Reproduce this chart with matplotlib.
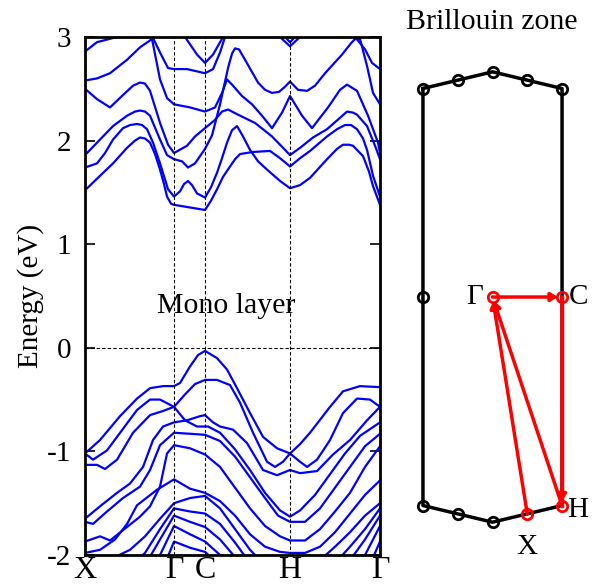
import matplotlib
matplotlib.use("Agg")
import matplotlib.pyplot as plt
from matplotlib.patches import FancyArrowPatch

plt.rcParams['font.family'] = ['Liberation Serif', 'DejaVu Serif']
plt.rcParams['axes.unicode_minus'] = False

# high-symmetry points along the k-path (path length units)
kpts = [0, 89, 120, 205, 295]
klabels = ['X', 'Γ', 'C', 'H', 'Γ']

# conduction bands: (k, E) pairs
c1_k = [0, 15, 28, 42, 50, 55, 60, 65, 70, 75, 79, 82, 86, 89, 120, 126, 132, 138, 145, 150, 155, 168, 185, 195, 205,
        215, 225, 242, 252, 260, 266, 272, 278, 282, 288, 295]
c1_e = [1.52, 1.66, 1.78, 1.93, 2.00, 2.03, 2.02, 1.98, 1.87, 1.72, 1.58, 1.46, 1.39, 1.38, 1.33, 1.42, 1.53, 1.65, 1.75, 1.82, 1.87, 1.89, 1.90, 1.83, 1.75,
        1.83, 1.90, 2.04, 2.11, 2.15, 2.15, 2.11, 2.02, 1.91, 1.66, 1.46]
c2_k = [0, 12, 20, 28, 38, 45, 52, 57, 62, 68, 75, 83, 89, 95, 99, 103, 107, 112, 120, 126, 132, 137, 142, 147, 152, 158, 165, 173, 182, 195, 205,
        215, 225, 242, 252, 258, 264, 268, 278, 284, 288, 295]
c2_e = [1.74, 1.78, 1.88, 2.01, 2.12, 2.15, 2.16, 2.15, 2.11, 1.98, 1.78, 1.53, 1.46, 1.51, 1.58, 1.61, 1.57, 1.49, 1.45, 1.55, 1.69, 1.83, 1.98, 2.10, 2.14, 2.04, 1.91, 1.80, 1.72, 1.61, 1.54,
        1.57, 1.64, 1.82, 1.92, 1.96, 1.96, 1.95, 1.85, 1.70, 1.56, 1.38]
c3_k = [0, 15, 28, 42, 50, 55, 60, 65, 75, 82, 89, 97, 103, 110, 120, 127, 135, 143, 147, 150, 154, 160, 173, 180, 187, 194, 200, 205,
        213, 222, 230, 240, 257, 266, 270, 275, 282, 288, 295]
c3_e = [1.86, 2.01, 2.14, 2.24, 2.28, 2.29, 2.28, 2.24, 2.01, 1.86, 1.82, 1.80, 1.74, 1.78, 1.92, 2.05, 2.35, 2.70, 2.84, 2.89, 2.88, 2.78, 2.56, 2.49, 2.46, 2.47, 2.52, 2.57,
        2.49, 2.48, 2.53, 2.65, 2.83, 2.94, 2.98, 2.98, 2.72, 2.46, 2.35]
c4_k = [0, 12, 25, 38, 48, 55, 60, 65, 75, 83, 89, 102, 110, 120, 130, 137, 143, 153, 170, 187, 205,
        215, 228, 242, 255, 262, 268, 272, 282, 290, 295]
c4_e = [2.50, 2.40, 2.32, 2.44, 2.53, 2.56, 2.55, 2.48, 2.17, 1.96, 1.88, 1.95, 2.04, 2.12, 2.20, 2.28, 2.30, 2.25, 2.17, 2.04, 1.86,
        1.93, 2.03, 2.11, 2.22, 2.28, 2.27, 2.25, 2.14, 1.95, 1.82]
c5_k = [0, 12, 25, 42, 55, 67, 75, 82, 89, 105, 120, 130, 137, 142, 147, 157, 167, 177, 187, 197, 205,
        217, 227, 243, 255, 262, 272, 283, 293, 295]
c5_e = [2.58, 2.60, 2.65, 2.78, 2.90, 2.98, 2.59, 2.41, 2.35, 2.32, 2.28, 2.32, 2.46, 2.59, 2.54, 2.43, 2.35, 2.24, 2.12, 2.27, 2.43,
        2.24, 2.12, 2.32, 2.49, 2.54, 2.48, 2.24, 1.98, 1.88]
c6_k = [0, 12, 32, 50, 68, 75, 83, 89, 102, 120, 128, 135, 140, 160, 190, 195, 205, 215, 230, 265, 271, 280, 287, 295]
c6_e = [2.86, 2.95, 3.00, 3.12, 2.99, 2.85, 2.70, 2.69, 2.69, 2.65, 2.69, 2.85, 3.00, 3.20, 3.05, 3.00, 2.91, 3.00, 3.20, 3.12, 2.99, 2.88, 2.75, 2.69]
c7_k = [89, 100, 112, 120, 128, 138, 150, 190, 200, 205, 210, 220]
c7_e = [3.20, 3.00, 2.83, 2.75, 2.83, 3.00, 3.20, 3.10, 3.00, 2.95, 3.00, 3.10]

# valence bands
v1_k = [0, 15, 35, 52, 65, 78, 89, 95, 105, 113, 120, 132, 142, 152, 165, 178, 192, 205,
        215, 225, 245, 258, 275, 295]
v1_e = [-1.02, -0.89, -0.66, -0.49, -0.39, -0.37, -0.37, -0.34, -0.18, -0.07, -0.03, -0.10, -0.21, -0.39, -0.63, -0.86, -0.97, -1.02,
        -0.93, -0.82, -0.57, -0.42, -0.37, -0.38]
v2_k = [0, 8, 22, 32, 52, 65, 75, 89, 100, 110, 120, 132, 145, 155, 168, 182, 190, 198, 205,
        215, 222, 232, 245, 258, 272, 285, 295]
v2_e = [-1.02, -1.08, -0.99, -0.86, -0.60, -0.50, -0.50, -0.57, -0.45, -0.35, -0.31, -0.31, -0.36, -0.53, -0.82, -1.10, -1.15, -1.10, -1.02,
        -1.10, -1.15, -1.08, -0.89, -0.63, -0.49, -0.50, -0.57]
v3_k = [0, 12, 20, 32, 48, 65, 78, 89, 100, 112, 123, 135, 150, 165, 180, 195, 205,
        215, 230, 245, 260, 275, 295]
v3_e = [-1.13, -1.13, -1.17, -1.08, -0.82, -0.65, -0.61, -0.57, -0.70, -0.76, -0.76, -0.82, -0.98, -1.18, -1.40, -1.57, -1.63,
        -1.57, -1.42, -1.22, -1.02, -0.85, -0.72]
v4_k = [0, 15, 32, 45, 58, 68, 78, 89, 102, 115, 120, 128, 135, 148, 162, 178, 192, 205,
        215, 232, 248, 265, 282, 295]
v4_e = [-1.65, -1.53, -1.40, -1.31, -1.15, -0.89, -0.76, -0.72, -0.70, -0.66, -0.65, -0.72, -0.76, -0.79, -0.92, -1.18, -1.23, -1.18,
        -1.21, -1.19, -1.03, -0.89, -0.70, -0.57]
v5_k = [0, 8, 22, 38, 55, 65, 75, 89, 105, 120, 135, 150, 165, 180, 193, 205,
        220, 235, 250, 265, 280, 295]
v5_e = [-1.68, -1.70, -1.58, -1.45, -1.34, -1.18, -0.94, -0.82, -0.83, -0.84, -0.90, -1.05, -1.25, -1.45, -1.62, -1.68,
        -1.68, -1.55, -1.35, -1.15, -0.95, -0.83]
v6_k = [0, 15, 25, 38, 55, 65, 75, 82, 89, 105, 120, 135, 150, 165, 180, 195, 205,
        220, 235, 250, 265, 280, 295]
v6_e = [-1.87, -1.82, -1.86, -1.76, -1.63, -1.53, -1.34, -1.02, -0.94, -0.97, -1.03, -1.15, -1.35, -1.55, -1.72, -1.82, -1.86,
        -1.86, -1.75, -1.58, -1.40, -1.15, -0.95]
v7_k = [0, 15, 30, 42, 52, 72, 89, 105, 120, 135, 150, 165, 180, 195, 205,
        220, 235, 250, 265, 280, 295]
v7_e = [-1.98, -1.95, -1.85, -1.70, -1.52, -1.37, -1.27, -1.36, -1.40, -1.48, -1.62, -1.80, -1.92, -1.97, -1.98,
        -1.98, -1.92, -1.78, -1.60, -1.42, -1.28]

# deeper valence bands share one k grid
vk = [0, 15, 30, 45, 60, 75, 89, 105, 120, 135, 150, 165, 180, 195, 205, 220, 235, 250, 265, 280, 295]
v8_e = [-2.15, -2.10, -2.02, -1.95, -1.82, -1.65, -1.50, -1.45, -1.43, -1.55, -1.75, -1.95, -2.10, -2.20, -2.20, -2.15, -2.05, -1.92, -1.78, -1.62, -1.50]
v9_e = [-2.30, -2.25, -2.20, -2.10, -1.98, -1.75, -1.55, -1.58, -1.60, -1.70, -1.88, -2.08, -2.25, -2.35, -2.35, -2.30, -2.20, -2.08, -1.92, -1.75, -1.55]
v10_e = [-2.45, -2.40, -2.35, -2.25, -2.10, -1.85, -1.62, -1.68, -1.73, -1.85, -2.02, -2.20, -2.35, -2.45, -2.45, -2.40, -2.35, -2.20, -2.05, -1.85, -1.62]
v11_e = [-2.60, -2.55, -2.50, -2.40, -2.25, -2.00, -1.72, -1.80, -1.87, -2.00, -2.15, -2.35, -2.50, -2.60, -2.60, -2.55, -2.50, -2.35, -2.20, -2.00, -1.72]
v12_e = [-2.80, -2.75, -2.70, -2.60, -2.45, -2.20, -1.87, -1.93, -1.97, -2.10, -2.30, -2.50, -2.70, -2.80, -2.80, -2.75, -2.70, -2.55, -2.40, -2.20, -1.87]

# Brillouin zone outline (reciprocal units, Γ at origin)
bz_x = [-0.5, -0.25, 0.0, 0.25, 0.5, 0.5, 0.25, 0.0, -0.25, -0.5, -0.5]
bz_y = [1.5, 1.56, 1.62, 1.56, 1.5, -1.5, -1.56, -1.62, -1.56, -1.5, 1.5]
bz_dot_x = [-0.5, -0.25, 0.0, 0.25, 0.5, -0.5, -0.5, -0.25, 0.0]
bz_dot_y = [1.5, 1.56, 1.62, 1.56, 1.5, 0.0, -1.5, -1.56, -1.62]
hs_name = ['Γ', 'C', 'H', 'X']
hs_x = [0.0, 0.5, 0.5, 0.25]
hs_y = [0.0, 0.0, -1.5, -1.56]

fig = plt.figure(figsize=(5.95, 5.85), dpi=100)

# ---- band structure ----
ax = fig.add_axes([0.1429, 0.0513, 0.4958, 0.8855])
blue = '#0000ff'
bands = [(c1_k, c1_e), (c2_k, c2_e), (c3_k, c3_e), (c4_k, c4_e), (c5_k, c5_e),
         (c6_k, c6_e), (c7_k, c7_e), (v1_k, v1_e), (v2_k, v2_e), (v3_k, v3_e),
         (v4_k, v4_e), (v5_k, v5_e), (v6_k, v6_e), (v7_k, v7_e)]
for e in [v8_e, v9_e, v10_e, v11_e, v12_e]:
    bands.append((vk, e))
for k, e in bands:
    ax.plot(k, e, color=blue, lw=1.6, solid_joinstyle='round')

for k in kpts[1:-1]:
    ax.axvline(k, color='black', lw=0.8, ls=(0, (3, 2)))
ax.axhline(0, color='black', lw=0.8, ls=(0, (3, 2)))

ax.set_xlim(kpts[0], kpts[-1])
ax.set_ylim(-2, 3)
ax.set_xticks(kpts)
ax.set_xticklabels(klabels)
ax.set_yticks([-2, -1, 0, 1, 2, 3])
ax.tick_params(axis='y', direction='in', length=7, width=1.2, right=True, labelsize=21, pad=10)
ax.tick_params(axis='x', length=0, labelsize=23, pad=1)
for s in ax.spines.values():
    s.set_linewidth(2)
ax.set_ylabel('Energy (eV)', fontsize=21, labelpad=2)
ax.text(141, 0.40, 'Mono layer', fontsize=21.5, ha='center', va='center')

# ---- Brillouin zone ----
bx = fig.add_axes([395 / 595, 25 / 585, 195 / 595, 520 / 585])
bx.set_xlim(-0.701, 0.701)
bx.set_ylim(-1.892, 1.849)
bx.axis('off')
bx.plot(bz_x, bz_y, color='black', lw=2.5, zorder=2)
bx.plot([0.5, 0.5], [0.0, -1.5], color='red', lw=2.5, zorder=3)
bx.plot(bz_dot_x, bz_dot_y, 'o', ms=7.5, mfc='none', mec='black', mew=2, zorder=4)
bx.plot(hs_x, hs_y, 'o', ms=7.5, mfc='none', mec='red', mew=2, zorder=5)

def red_arrow(i, j):
    bx.add_patch(FancyArrowPatch((hs_x[i], hs_y[i]), (hs_x[j], hs_y[j]),
                                 arrowstyle='-|>,head_length=4,head_width=2.5',
                                 color='red', lw=2.5, shrinkA=0, shrinkB=3, zorder=3))

red_arrow(0, 1)
red_arrow(1, 2)
red_arrow(2, 0)
red_arrow(3, 0)

bx.text(hs_x[0] - 0.07, hs_y[0], hs_name[0], fontsize=21, ha='right', va='center')
bx.text(hs_x[1] + 0.05, hs_y[1], hs_name[1], fontsize=21, ha='left', va='center')
bx.text(hs_x[2] + 0.04, hs_y[2] - 0.03, hs_name[2], fontsize=21, ha='left', va='center')
bx.text(hs_x[3], hs_y[3] - 0.24, hs_name[3], fontsize=21, ha='center', va='center')
fig.text(492 / 595, 1 - 22 / 585, 'Brillouin zone', fontsize=21.5, ha='center', va='center')

fig.savefig('out.png', dpi=100)
